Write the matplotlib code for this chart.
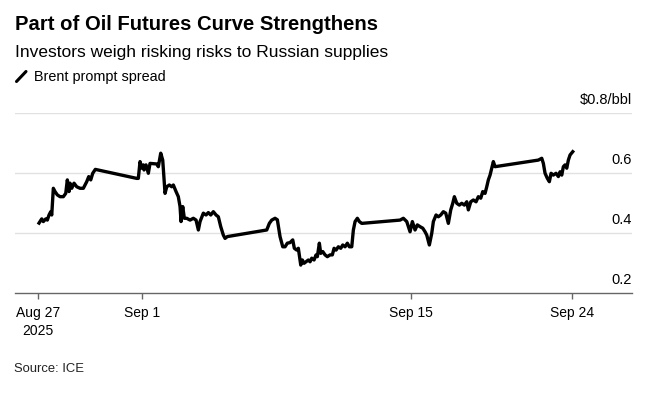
import numpy as np
import matplotlib
matplotlib.use("Agg")
import matplotlib.pyplot as plt
from matplotlib.lines import Line2D
from matplotlib.transforms import offset_copy

plt.rcParams["font.family"] = ["Liberation Sans", "DejaVu Sans"]

# Brent prompt spread, $/bbl; x = days since Aug 27 2025
days = [0.048, 0.178, 0.255, 0.370, 0.447, 0.529, 0.611, 0.659, 0.736, 0.817,
        0.928, 1.058, 1.216, 1.332, 1.409, 1.490, 1.538, 1.620, 1.731, 1.861,
        2.019, 2.178, 2.260, 2.341, 2.438, 2.534, 2.630, 2.755, 4.745, 4.822,
        4.904, 4.986, 5.068, 5.104, 5.208, 5.328, 5.416, 5.765, 5.848, 5.973,
        6.077, 6.197, 6.285, 6.421, 6.546, 6.629, 6.770, 6.889, 6.978, 7.030,
        7.118, 7.202, 7.326, 7.498, 7.670, 7.811, 7.931, 8.019, 8.190, 8.331,
        8.451, 8.576, 8.711, 8.851, 8.971, 9.096, 9.231, 9.320, 9.440, 11.490,
        11.625, 11.750, 11.922, 12.042, 12.182, 12.323, 12.442, 12.562, 12.703, 12.843,
        12.926, 13.051, 13.134, 13.260, 13.343, 13.431, 13.535, 13.655, 13.744, 13.832,
        13.952, 14.056, 14.123, 14.228, 14.300, 14.405, 14.524, 14.644, 14.785, 14.904,
        14.993, 15.097, 15.217, 15.342, 15.446, 15.566, 15.685, 15.790, 15.914, 15.998,
        16.087, 16.206, 16.310, 16.435, 18.428, 18.599, 18.776, 18.948, 19.073, 19.224,
        19.352, 19.503, 19.654, 19.783, 19.878, 20.023, 20.157, 20.247, 20.398, 20.526,
        20.660, 20.806, 20.940, 21.085, 21.219, 21.331, 21.421, 21.555, 21.700, 21.834,
        21.980, 22.114, 22.203, 22.337, 22.482, 22.633, 22.762, 22.896, 23.008, 23.136,
        23.231, 23.321, 23.416, 23.511, 23.600, 23.695, 26.116, 26.306, 26.395, 26.490,
        26.619, 26.731, 26.826, 26.954, 27.105, 27.234, 27.329, 27.424, 27.513, 27.608,
        27.703, 27.793, 27.888, 28.039]
spread = [0.433, 0.447, 0.438, 0.447, 0.443, 0.460, 0.471, 0.460, 0.549, 0.538,
          0.527, 0.521, 0.521, 0.532, 0.577, 0.538, 0.566, 0.549, 0.566, 0.554,
          0.549, 0.549, 0.560, 0.571, 0.588, 0.577, 0.599, 0.612, 0.582, 0.582,
          0.638, 0.616, 0.627, 0.610, 0.627, 0.599, 0.632, 0.630, 0.621, 0.666,
          0.643, 0.532, 0.554, 0.560, 0.554, 0.560, 0.538, 0.521, 0.488, 0.438,
          0.488, 0.449, 0.449, 0.443, 0.449, 0.443, 0.410, 0.438, 0.466, 0.460,
          0.468, 0.460, 0.471, 0.460, 0.454, 0.421, 0.393, 0.382, 0.388, 0.410,
          0.432, 0.443, 0.449, 0.444, 0.388, 0.354, 0.354, 0.366, 0.368, 0.377,
          0.349, 0.343, 0.349, 0.293, 0.310, 0.299, 0.304, 0.310, 0.304, 0.316,
          0.310, 0.327, 0.321, 0.366, 0.332, 0.338, 0.327, 0.321, 0.327, 0.327,
          0.349, 0.343, 0.354, 0.349, 0.360, 0.354, 0.366, 0.354, 0.354, 0.410,
          0.438, 0.449, 0.438, 0.432, 0.443, 0.449, 0.438, 0.404, 0.438, 0.410,
          0.427, 0.421, 0.416, 0.404, 0.393, 0.360, 0.399, 0.438, 0.460, 0.454,
          0.460, 0.471, 0.466, 0.432, 0.477, 0.499, 0.521, 0.499, 0.493, 0.499,
          0.493, 0.504, 0.477, 0.504, 0.510, 0.504, 0.521, 0.516, 0.538, 0.532,
          0.554, 0.577, 0.593, 0.616, 0.638, 0.621, 0.643, 0.649, 0.632, 0.599,
          0.582, 0.571, 0.599, 0.593, 0.599, 0.588, 0.604, 0.593, 0.621, 0.627,
          0.616, 0.643, 0.660, 0.671]

tick_days = [0, 5, 19, 28]
tick_labels = ["Aug 27\n2025", "Sep 1", "Sep 15", "Sep 24"]
y_ticks = [0.2, 0.4, 0.6, 0.8]
y_labels = ["0.2", "0.4", "0.6", "$0.8/bbl"]

# the source chart spaces its dates a bit unevenly; mimic with a piecewise scale
scale_days = [-2, 0, 5, 19, 28, 32]
scale_pos = [-41.6, 0, 104, 373, 534, 605.6]


def fwd(d):
    return np.interp(d, scale_days, scale_pos)


def inv(p):
    return np.interp(p, scale_pos, scale_days)


fig = plt.figure(figsize=(6.53, 3.93), dpi=100)
ax = fig.add_axes([0.023, 0.2545, 0.945, 0.458])
ax.set_xscale("function", functions=(fwd, inv))

ax.plot(days, spread, color="black", lw=2.4, solid_joinstyle="round", zorder=3)

ax.set_xlim(-1.106, 31.354)
ax.set_ylim(0.2, 0.8)

for v in y_ticks[1:]:
    ax.axhline(v, color="#e1e1e1", lw=1.0, zorder=1)

for s in ["top", "right", "left"]:
    ax.spines[s].set_visible(False)
ax.spines["bottom"].set_color("#666666")
ax.spines["bottom"].set_linewidth(1.0)

ax.set_yticks([])
ax.set_xticks(tick_days)
ax.set_xticklabels(tick_labels)
ax.minorticks_off()
ax.tick_params(axis="x", length=4.5, width=1.0, color="#666666", pad=5,
               labelsize=10, labelcolor="black")
for lbl in ax.get_xticklabels():
    lbl.set_linespacing(1.35)

ytrans = offset_copy(ax.get_yaxis_transform(), fig=fig, x=0, y=6, units="dots")
for v, lab in zip(y_ticks, y_labels):
    ax.text(1.0, v, lab, transform=ytrans, ha="right", va="bottom",
            fontsize=10.5, color="black")

H = 393.0
fig.text(15 / 653, 1 - 30 / H, "Part of Oil Futures Curve Strengthens",
         fontsize=14.6, fontweight="bold", va="baseline", ha="left")
fig.text(15 / 653, 1 - 56.5 / H, "Investors weigh risking risks to Russian supplies",
         fontsize=12.5, va="baseline", ha="left")
fig.add_artist(Line2D([16.5 / 653, 26 / 653], [1 - 81.5 / H, 1 - 71.5 / H],
                      color="black", lw=2.2, solid_capstyle="round"))
fig.text(34.5 / 653, 1 - 80.5 / H, "Brent prompt spread",
         fontsize=10.4, va="baseline", ha="left")
fig.text(14 / 653, 1 - 372 / H, "Source: ICE",
         fontsize=9.4, va="baseline", ha="left", color="#222222")

fig.savefig("out.png", dpi=100)
